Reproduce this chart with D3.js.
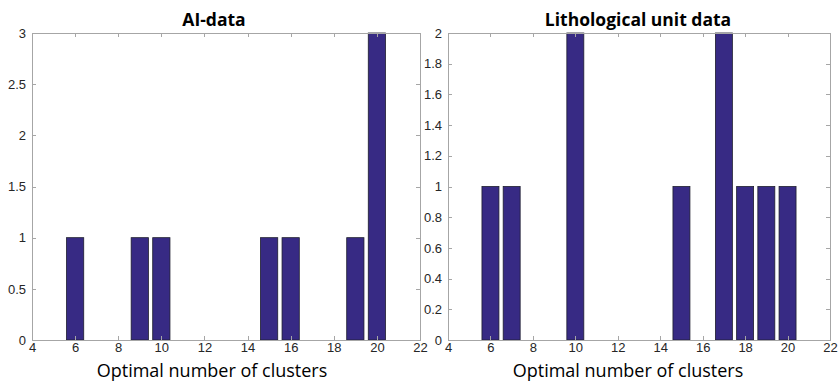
<!DOCTYPE html>
<html lang="en">
<head>
    <meta charset="UTF-8">
    <title>Optimal number of clusters</title>
    <script src="https://d3js.org/d3.v7.min.js"></script>
    <style>
        body { margin: 0; background: #fff; }
        .tick text { font-family: "Liberation Sans", Arial, sans-serif; font-size: 13px; fill: #262626; }
        .axis path, .axis line { stroke: #a6a6a6; shape-rendering: crispEdges; }
        .title { font-family: "Open Sans", Lato, sans-serif; font-weight: bold; font-size: 17.5px; fill: #000; }
        .xlabel { font-family: "Open Sans", Lato, sans-serif; font-size: 18px; fill: #000; }
    </style>
</head>
<body>
    <svg id="chart" width="840" height="382"></svg>

    <script>
        // Data
        const aiClusters = [6, 9, 10, 15, 16, 19, 20];
        const aiCounts = [1, 1, 1, 1, 1, 1, 3];
        const lithoClusters = [6, 7, 10, 15, 17, 18, 19, 20];
        const lithoCounts = [1, 1, 2, 1, 2, 1, 1, 1];
        const xTicks = [4, 6, 8, 10, 12, 14, 16, 18, 20, 22];
        const aiYTicks = [0, 0.5, 1, 1.5, 2, 2.5, 3];
        const lithoYTicks = [0, 0.2, 0.4, 0.6, 0.8, 1, 1.2, 1.4, 1.6, 1.8, 2];

        const svg = d3.select("#chart");
        const barColor = "#372a84";
        const fmt = d3.format("~g");

        function panel(opts) {
            const width = opts.right - opts.left,
                height = opts.bottom - opts.top;
            const g = svg.append("g")
                .attr("transform", `translate(${opts.left},${opts.top})`);

            const x = d3.scaleLinear().domain([4, 22]).range([0, width]);
            const y = d3.scaleLinear().domain([0, opts.yMax]).range([height, 0]);

            const data = opts.clusters.map((c, i) => ({ c: c, n: opts.counts[i] }));

            // bars (matlab default width 0.8)
            g.selectAll(".bar")
                .data(data)
                .enter().append("rect")
                .attr("class", "bar")
                .attr("x", d => x(d.c - 0.4))
                .attr("width", d => x(d.c + 0.4) - x(d.c - 0.4))
                .attr("y", d => y(d.n))
                .attr("height", d => y(0) - y(d.n))
                .attr("fill", barColor)
                .attr("stroke", "#1e1e2e")
                .attr("stroke-width", 0.8);

            // box with inward ticks
            g.append("g").attr("class", "axis")
                .attr("transform", `translate(0,${height})`)
                .call(d3.axisBottom(x).tickValues(xTicks).tickSize(-4).tickSizeOuter(0).tickPadding(3).tickFormat(fmt));
            g.append("g").attr("class", "axis")
                .call(d3.axisTop(x).tickValues(xTicks).tickSize(-4).tickSizeOuter(0).tickFormat(""));
            g.append("g").attr("class", "axis")
                .call(d3.axisLeft(y).tickValues(opts.yTicks).tickSize(-4).tickSizeOuter(0).tickPadding(6).tickFormat(fmt));
            g.append("g").attr("class", "axis")
                .attr("transform", `translate(${width},0)`)
                .call(d3.axisRight(y).tickValues(opts.yTicks).tickSize(-4).tickSizeOuter(0).tickFormat(""));

            svg.append("text")
                .attr("class", "title")
                .attr("x", opts.titleX)
                .attr("y", 26)
                .attr("text-anchor", "middle")
                .text(opts.title);

            svg.append("text")
                .attr("class", "xlabel")
                .attr("x", opts.labelX)
                .attr("y", 377)
                .attr("text-anchor", "middle")
                .text("Optimal number of clusters");
        }

        panel({
            left: 32, right: 420, top: 33, bottom: 340,
            clusters: aiClusters, counts: aiCounts, yMax: 3, yTicks: aiYTicks,
            title: "AI-data", titleX: 214, labelX: 212
        });

        panel({
            left: 448, right: 830, top: 33, bottom: 340,
            clusters: lithoClusters, counts: lithoCounts, yMax: 2, yTicks: lithoYTicks,
            title: "Lithological unit data", titleX: 638, labelX: 628
        });
    </script>
</body>
</html>
